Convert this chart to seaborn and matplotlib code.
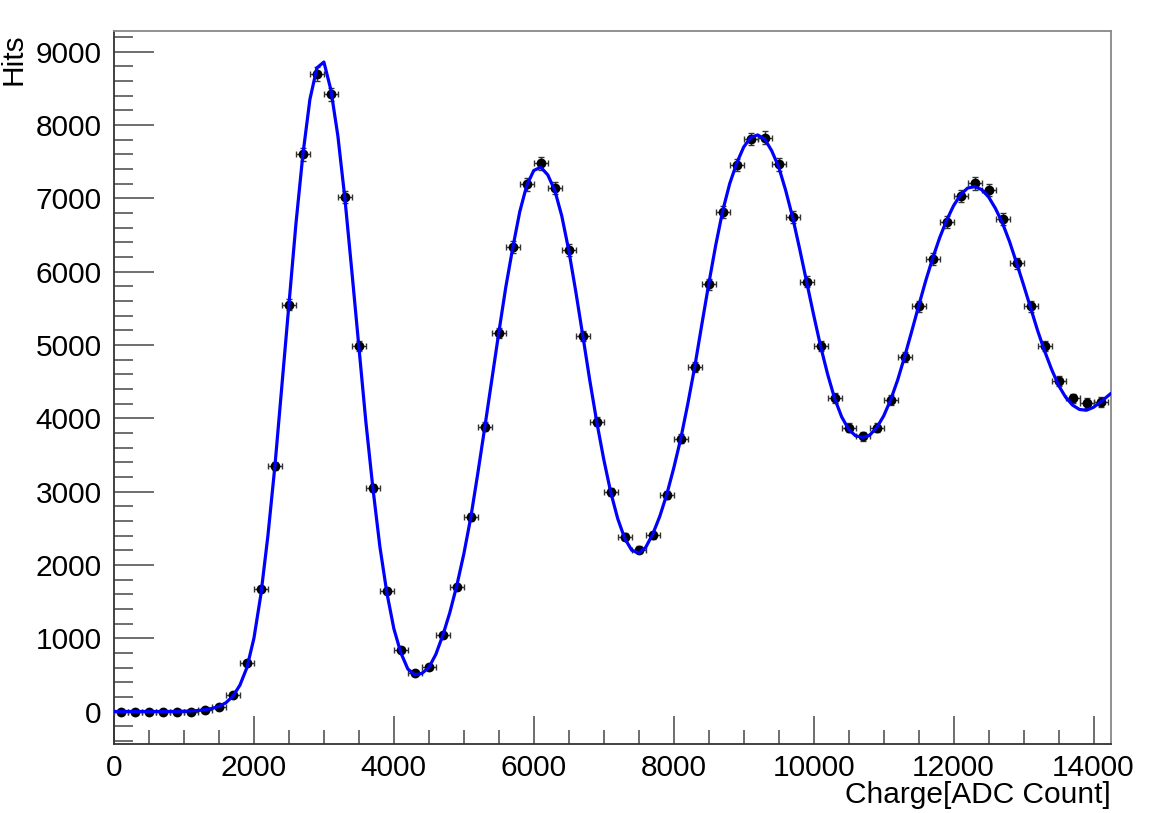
import numpy as np
import pandas as pd
import seaborn as sns
import matplotlib
matplotlib.use("Agg")
import matplotlib.pyplot as plt
from matplotlib.ticker import MultipleLocator

# histogram bins (200 ADC wide), centres and counts
bin_centers = [100, 300, 500, 700, 900, 1100, 1300, 1500, 1700, 1900,
               2100, 2300, 2500, 2700, 2900, 3100, 3300, 3500, 3700, 3900,
               4100, 4300, 4500, 4700, 4900, 5100, 5300, 5500, 5700, 5900,
               6100, 6300, 6500, 6700, 6900, 7100, 7300, 7500, 7700, 7900,
               8100, 8300, 8500, 8700, 8900, 9100, 9300, 9500, 9700, 9900,
               10100, 10300, 10500, 10700, 10900, 11100, 11300, 11500, 11700, 11900,
               12100, 12300, 12500, 12700, 12900, 13100, 13300, 13500, 13700, 13900,
               14100]
hits = [0, 0, 0, 0, 0, 0, 15, 60, 220, 660,
        1670, 3350, 5550, 7600, 8700, 8420, 7020, 4990, 3050, 1645,
        840, 520, 605, 1040, 1695, 2650, 3885, 5165, 6335, 7190,
        7480, 7145, 6295, 5125, 3955, 3000, 2385, 2210, 2405, 2955,
        3720, 4700, 5830, 6820, 7455, 7810, 7825, 7465, 6750, 5865,
        4985, 4280, 3870, 3755, 3870, 4250, 4840, 5530, 6175, 6675,
        7030, 7205, 7110, 6715, 6115, 5525, 4985, 4510, 4270, 4210,
        4220]
bin_half_width = 100

# fit curve
fit_x = list(range(0, 14300, 100)[:143]) + [14250]
fit_y = [0, 0, 0, 0, 0, 0, 0, 0, 0, 2,
         4, 8, 14, 25, 42, 70, 120, 210, 360, 600,
         1000, 1600, 2400, 3350, 4450, 5550, 6650, 7600, 8350, 8780,
         8860, 8480, 7850, 7000, 6000, 4980, 3950, 3050, 2250, 1620,
         1130, 800, 580, 500, 520, 600, 780, 1040, 1350, 1720,
         2150, 2650, 3250, 3880, 4530, 5170, 5790, 6330, 6820, 7180,
         7380, 7425, 7320, 7110, 6760, 6290, 5730, 5130, 4520, 3950,
         3440, 2990, 2630, 2360, 2200, 2160, 2240, 2420, 2660, 2960,
         3320, 3720, 4190, 4700, 5270, 5830, 6360, 6830, 7200, 7480,
         7700, 7830, 7865, 7810, 7650, 7430, 7110, 6740, 6310, 5860,
         5410, 4980, 4600, 4270, 4020, 3850, 3760, 3740, 3770, 3870,
         4030, 4250, 4520, 4840, 5180, 5530, 5870, 6180, 6460, 6700,
         6900, 7050, 7140, 7160, 7120, 7020, 6860, 6660, 6410, 6120,
         5820, 5510, 5200, 4920, 4670, 4450, 4290, 4180, 4120, 4110,
         4150, 4220, 4300, 4340]

fit_x = fit_x[:len(fit_y)]

df_hist = pd.DataFrame({"charge": bin_centers, "hits": hits})
df_hist["err"] = np.sqrt(df_hist["hits"])
df_fit = pd.DataFrame({"charge": fit_x, "hits": fit_y})

sns.set_style("white")
plt.rcParams["font.family"] = ["Liberation Sans", "DejaVu Sans"]
plt.rcParams["text.color"] = "black"

fig = plt.figure(figsize=(11.64, 8.13), dpi=100)
ax = fig.add_axes([114 / 1164, 1 - 744 / 813, (1111 - 114) / 1164, (744 - 31) / 813])

ax.errorbar(df_hist["charge"], df_hist["hits"], xerr=bin_half_width, yerr=df_hist["err"],
            fmt="none", ecolor="#333333", elinewidth=1.0, capsize=2.5, capthick=1.0, zorder=2)
sns.scatterplot(data=df_hist, x="charge", y="hits", ax=ax, color="black", s=50,
                edgecolor="black", linewidth=0, zorder=3, legend=False)
sns.lineplot(data=df_fit, x="charge", y="hits", ax=ax, color="#0000ff", linewidth=2.3,
             zorder=4, legend=False)

ax.set_xlim(0, 14250)
ax.set_ylim(-443, 9283)

ax.xaxis.set_major_locator(MultipleLocator(2000))
ax.xaxis.set_minor_locator(MultipleLocator(500))
ax.yaxis.set_major_locator(MultipleLocator(1000))
ax.yaxis.set_minor_locator(MultipleLocator(200))
ax.tick_params(axis="both", which="both", direction="in", colors="#555555",
               labelcolor="black", labelsize=21.5, bottom=True, left=True,
               top=False, right=False)
ax.tick_params(axis="x", which="major", length=20, width=1.2, pad=7)
ax.tick_params(axis="x", which="minor", length=10, width=1.2)
ax.tick_params(axis="y", which="major", length=29, width=1.2, pad=9)
ax.tick_params(axis="y", which="minor", length=14, width=1.2)

for side in ["left", "bottom"]:
    ax.spines[side].set_color("#333333")
    ax.spines[side].set_linewidth(1.3)
for side in ["top", "right"]:
    ax.spines[side].set_color("#888888")
    ax.spines[side].set_linewidth(1.3)

ax.set_xlabel("")
ax.set_ylabel("")
fig.text(14 / 1164, 1 - 33 / 813, "Hits", rotation=90, ha="center", va="top",
         fontsize=21.5, color="black")
fig.text(1111 / 1164, 1 - 795 / 813, "Charge[ADC Count]", ha="right", va="center",
         fontsize=21.5, color="black")

fig.savefig("out.png", dpi=100)
